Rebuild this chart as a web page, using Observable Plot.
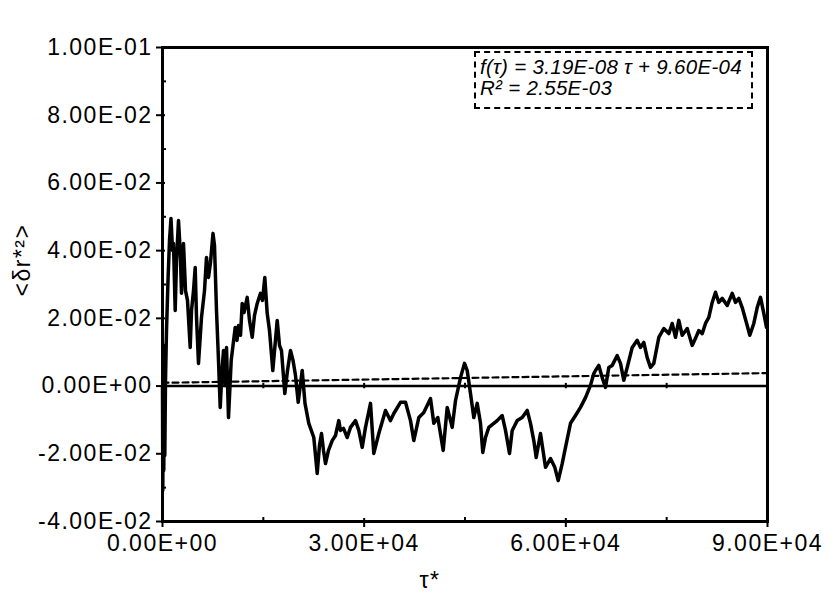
<!DOCTYPE html>
<html>
<head>
<meta charset="utf-8">
<script src="https://cdn.jsdelivr.net/npm/d3@7"></script>
<script src="https://cdn.jsdelivr.net/npm/@observablehq/plot@0.6"></script>
<style>
  html, body { margin: 0; padding: 0; background: #fff; }
  #wrap { position: relative; width: 840px; height: 595px; }
  #fitbox {
    position: absolute; left: 474px; top: 51px; width: 271px; height: 51px;
    border: 2px dashed #000; font-family: "Liberation Sans", Arial, sans-serif;
    font-style: italic; font-size: 20.5px; letter-spacing: 0.3px; line-height: 21px;
    padding: 3px 0 0 4px; box-sizing: content-box; color: #000; background: #fff;
  }
</style>
</head>
<body>
<div id="wrap"></div>
<script>
// τ* values
const tau = [0,45,119,193,268,342,446,595,818,1041,
1264,1488,1636,1889,2083,2380,2633,2828,3124,3422,
3719,4121,4314,4612,4865,5058,5355,5802,6248,6545,
6843,7140,7512,7736,8033,8331,8584,8851,9074,9298,
9521,9818,10220,10488,10815,11083,11306,11603,11856,12124,
12600,12942,13344,13686,14088,14578,14876,15218,15575,15917,
16408,16736,17063,17405,17702,18193,18595,19041,19413,19785,
20187,20782,21198,21763,22507,23013,23355,23653,23950,24248,
24694,25245,25735,26226,26479,26926,27476,27967,28711,29202,
29707,30198,30942,31433,32177,33173,33917,34408,35405,36149,
36892,37383,38127,38871,39868,40359,40954,41757,42352,43096,
43587,44330,44926,45327,45818,46309,46815,47306,47648,48049,
48540,49284,49790,50534,51025,51620,52021,52765,53509,54253,
54744,55234,55591,56231,56975,57719,58358,58864,59459,59950,
60694,61438,62181,62925,63669,64160,64413,64904,65409,65900,
66391,66897,67641,68132,68623,69128,69872,70616,71107,71598,
72104,72595,73086,73830,74574,75318,75823,76314,76805,77311,
78055,78799,79290,79781,80286,80777,81268,81774,82264,82755,
83261,84005,84749,85240,85731,86236,86980,87367,87962,88468,
88958,89449,89850];
// <δr*²> values
const msd = [-0.0001,-0.0308,0.0105,-0.0249,0.0120,-0.0205,0.0017,0.0164,0.0312,0.0430,
0.0495,0.0401,0.0421,0.0223,0.0371,0.0489,0.0401,0.0274,0.0421,0.0282,
0.0253,0.0114,0.0223,0.0282,0.0350,0.0203,0.0067,0.0203,0.0282,0.0380,
0.0321,0.0365,0.0451,0.0415,0.0223,0.0076,-0.0063,0.0046,0.0105,0.0002,
0.0114,-0.0093,0.0076,0.0120,0.0173,0.0135,0.0179,0.0150,0.0244,0.0217,
0.0262,0.0194,0.0144,0.0209,0.0244,0.0274,0.0253,0.0321,0.0215,0.0164,
0.0046,0.0120,0.0194,0.0120,0.0105,-0.0022,0.0046,0.0105,0.0076,0.0031,
-0.0048,0.0046,-0.0051,-0.0110,-0.0152,-0.0258,-0.0175,-0.0140,-0.0190,-0.0229,
-0.0190,-0.0161,-0.0146,-0.0102,-0.0131,-0.0125,-0.0152,-0.0122,-0.0102,-0.0131,
-0.0181,-0.0122,-0.0051,-0.0199,-0.0140,-0.0072,-0.0102,-0.0081,-0.0048,-0.0048,
-0.0102,-0.0161,-0.0093,-0.0078,-0.0037,-0.0110,-0.0093,-0.0190,-0.0063,-0.0122,
-0.0043,0.0025,0.0067,0.0046,-0.0022,-0.0093,-0.0051,-0.0110,-0.0196,-0.0152,
-0.0122,-0.0110,-0.0102,-0.0087,-0.0131,-0.0199,-0.0131,-0.0102,-0.0093,-0.0072,
-0.0110,-0.0161,-0.0211,-0.0140,-0.0240,-0.0214,-0.0240,-0.0279,-0.0229,-0.0181,
-0.0110,-0.0087,-0.0063,-0.0034,0.0002,0.0037,0.0046,0.0061,0.0025,-0.0004,
0.0055,0.0061,0.0090,0.0067,0.0017,0.0055,0.0114,0.0135,0.0114,0.0129,
0.0084,0.0055,0.0067,0.0144,0.0170,0.0155,0.0185,0.0144,0.0194,0.0150,
0.0170,0.0120,0.0141,0.0164,0.0155,0.0185,0.0203,0.0247,0.0277,0.0247,
0.0259,0.0238,0.0274,0.0247,0.0259,0.0232,0.0179,0.0150,0.0185,0.0232,
0.0262,0.0215,0.0173];

// linear fit shown in the box
const fitSlope = 3.19e-8;
const fitIntercept = 9.60e-4;
const fitTau = [0, 90000];

const xTicks = [0, 30000, 60000, 90000];
const xMinorTicks = [15000, 45000, 75000];
const yTicks = [-0.04, -0.02, 0, 0.02, 0.04, 0.06, 0.08, 0.10];
const yMinorTicks = [-0.03, -0.01, 0.01, 0.03, 0.05, 0.07, 0.09];
const zeroLineTicks = [15000, 30000, 45000, 60000, 75000];

const fitText = ["f(τ) = 3.19E-08 τ + 9.60E-04", "R² = 2.55E-03"];
const xLabel = "τ*";
const yLabel = "<δr*²>";

const series = tau.map((t, i) => ({tau: t, v: msd[i]})).filter(d => d.v !== undefined);
const fit = fitTau.map(t => ({tau: t, v: fitSlope * t + fitIntercept}));

const fmt = v => {
  const [m, e] = (+v).toExponential(2).split("e");
  const n = +e;
  return m + "E" + (n < 0 ? "-" : "+") + String(Math.abs(n)).padStart(2, "0");
};

const chart = Plot.plot({
  width: 840,
  height: 595,
  marginLeft: 162,
  marginRight: 73,
  marginTop: 47,
  marginBottom: 74,
  style: {fontFamily: "'Liberation Sans', Arial, sans-serif", fontSize: "23px", color: "#000", background: "#fff", letterSpacing: "1.5px"},
  x: {domain: [0, 90000], label: null},
  y: {domain: [-0.04, 0.1], label: null},
  marks: [
    Plot.ruleY([0], {strokeWidth: 2.5}),
    Plot.ruleX(zeroLineTicks, {x: d => d, y1: -0.0008, y2: 0.0008, strokeWidth: 2}),
    Plot.line(fit, {x: "tau", y: "v", strokeWidth: 2.2, strokeDasharray: "6,4"}),
    Plot.line(series, {x: "tau", y: "v", strokeWidth: 3.5, strokeLinejoin: "round"}),
    Plot.frame({strokeWidth: 3}),
    // major ticks crossing the axes
    Plot.axisY(yTicks, {tickSize: 9, dx: 3, tickFormat: () => "", strokeWidth: 2, label: null}),
    Plot.axisY(yTicks, {tickSize: 0, tickPadding: 10, tickFormat: fmt, fontSize: 23, label: null}),
    Plot.axisY(yMinorTicks, {tickSize: 4, dx: 4, tickFormat: () => "", strokeWidth: 2, label: null}),
    Plot.axisX(xTicks, {tickSize: 9, dy: -3, tickFormat: () => "", strokeWidth: 2, label: null}),
    Plot.axisX(xTicks, {tickSize: 0, tickPadding: 13, tickFormat: fmt, fontSize: 23, label: null}),
    Plot.axisX(xMinorTicks, {tickSize: 4, dy: -4, tickFormat: () => "", strokeWidth: 2, label: null}),
    Plot.text([xLabel], {frameAnchor: "bottom", dx: -35, dy: 66, lineAnchor: "bottom", fontSize: 23}),
    Plot.text([yLabel], {frameAnchor: "left", rotate: -90, dx: -133, dy: 12, lineAnchor: "bottom", fontSize: 23, style: "letter-spacing:0.5px"})
  ]
});

const wrap = document.getElementById("wrap");
wrap.appendChild(chart);
const box = document.createElement("div");
box.id = "fitbox";
box.innerHTML = fitText.map(t => `<div>${t}</div>`).join("");
wrap.appendChild(box);
</script>
</body>
</html>
